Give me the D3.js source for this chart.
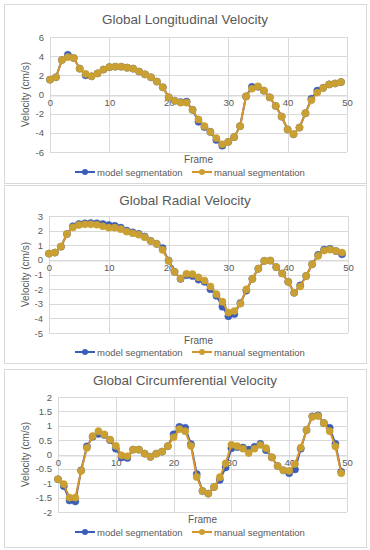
<!DOCTYPE html>
<html><head><meta charset="utf-8">
<script src="https://cdn.jsdelivr.net/npm/d3@7"></script>
<style>body{margin:0;background:#fff;}svg{display:block;font-family:"Liberation Sans",Arial,sans-serif;}</style>
</head><body><svg id="c" width="370" height="550"></svg>
<script>
const frames = d3.range(0, 50);
const seriesNames = ["model segmentation", "manual segmentation"];
const titles = ["Global Longitudinal Velocity", "Global Radial Velocity", "Global Circumferential Velocity"];

const longModel = [1.55,1.8,3.6,4.15,3.8,2.7,2.0,1.9,2.2,2.6,2.85,2.9,2.9,2.8,2.7,2.4,2.1,1.8,1.35,0.75,-0.3,-0.65,-0.8,-0.75,-1.6,-2.85,-3.4,-3.9,-4.75,-5.35,-4.95,-4.45,-3.3,-0.2,0.8,0.8,0.4,-0.3,-1.2,-2.3,-3.65,-4.15,-3.45,-1.95,-0.45,0.4,0.7,1.05,1.15,1.3];
const longManual = [1.55,1.8,3.6,3.9,3.8,2.7,2.15,1.9,2.2,2.6,2.85,2.9,2.9,2.8,2.7,2.4,2.1,1.8,1.35,0.75,-0.3,-0.65,-0.85,-0.85,-1.6,-2.6,-3.3,-3.9,-4.55,-5.2,-4.95,-4.45,-3.3,-0.2,0.6,0.85,0.4,-0.3,-1.2,-2.3,-3.65,-4.15,-3.45,-1.95,-0.6,0.2,0.7,1.05,1.15,1.3];

const radModel = [0.43,0.5,0.9,1.77,2.3,2.45,2.5,2.52,2.5,2.45,2.38,2.33,2.2,2.0,1.88,1.78,1.6,1.3,1.1,0.8,-0.05,-0.82,-1.3,-1.05,-1.1,-1.35,-1.5,-2.0,-2.45,-3.2,-3.85,-3.7,-2.95,-2.1,-1.3,-0.6,-0.07,-0.05,-0.5,-0.93,-1.5,-2.25,-1.75,-1.1,-0.3,0.35,0.7,0.75,0.6,0.38];
const radManual = [0.43,0.5,0.9,1.77,2.22,2.38,2.43,2.43,2.4,2.3,2.2,2.2,2.1,1.93,1.82,1.72,1.55,1.3,1.1,0.68,-0.07,-0.82,-1.27,-0.95,-0.98,-1.2,-1.41,-1.82,-2.34,-2.86,-3.6,-3.5,-3.0,-2.02,-1.3,-0.6,-0.07,-0.05,-0.5,-0.93,-1.5,-2.25,-1.82,-1.1,-0.3,0.27,0.64,0.7,0.6,0.5];

const circModel = [-0.86,-1.1,-1.6,-1.63,-0.55,0.28,0.62,0.72,0.68,0.5,0.2,-0.1,-0.12,0.17,0.17,0.03,-0.08,0.03,0.1,0.29,0.7,0.96,0.93,0.36,-0.68,-1.27,-1.36,-1.13,-0.88,-0.45,0.22,0.26,0.24,0.17,0.27,0.37,0.15,-0.1,-0.4,-0.55,-0.65,-0.52,0.2,0.85,1.33,1.36,1.09,0.93,0.37,-0.6];
const circManual = [-0.86,-1.03,-1.5,-1.5,-0.57,0.23,0.64,0.81,0.7,0.52,0.3,-0.03,-0.06,0.17,0.17,0.03,-0.08,0.03,0.1,0.29,0.6,0.88,0.81,0.3,-0.78,-1.27,-1.36,-1.13,-0.79,-0.31,0.34,0.29,0.2,0.05,0.2,0.33,0.22,-0.1,-0.4,-0.55,-0.57,-0.33,0.24,0.85,1.31,1.34,1.09,0.81,0.28,-0.65];

const longTicks = [-6,-4,-2,0,2,4,6];
const radTicks = [-5,-4,-3,-2,-1,0,1,2,3];
const circTicks = [-2,-1.5,-1,-0.5,0,0.5,1,1.5,2];
const xTicks = [0,10,20,30,40,50];

const colors = ["#3A5DB8", "#D9952A"];
const markerFill = ["#3A5DB8", "#C9A031"];

const panels = [
  {title: titles[0], model: longModel, manual: longManual, ticks: longTicks,
   box: [4,4,366,183], plot: [50,37,347,152], titleY: 24, frameY: 163, legY: 172},
  {title: titles[1], model: radModel, manual: radManual, ticks: radTicks,
   box: [4,185,366,363], plot: [49,216,348,333], titleY: 205, frameY: 344, legY: 352},
  {title: titles[2], model: circModel, manual: circManual, ticks: circTicks,
   box: [4,369,366,547], plot: [58,397,347,512], titleY: 385, frameY: 523, legY: 532}
];

const svg = d3.select("#c");
const gray = "#595959";

panels.forEach(p => {
  const g = svg.append("g");
  g.append("rect").attr("x", p.box[0]+0.5).attr("y", p.box[1]+0.5)
    .attr("width", p.box[2]-p.box[0]).attr("height", p.box[3]-p.box[1])
    .attr("fill", "#fff").attr("stroke", "#d9d9d9");
  const x = d3.scaleLinear().domain([0,50]).range([p.plot[0], p.plot[2]]);
  const y = d3.scaleLinear().domain([d3.min(p.ticks), d3.max(p.ticks)]).range([p.plot[3], p.plot[1]]);

  g.append("g").selectAll("line").data(p.ticks).join("line")
    .attr("x1", p.plot[0]).attr("x2", p.plot[2])
    .attr("y1", d => Math.round(y(d))+0.5).attr("y2", d => Math.round(y(d))+0.5)
    .attr("stroke", "#d9d9d9").attr("stroke-width", 1);
  g.append("g").selectAll("line").data(xTicks).join("line")
    .attr("x1", d => Math.round(x(d))+0.5).attr("x2", d => Math.round(x(d))+0.5)
    .attr("y1", p.plot[1]).attr("y2", p.plot[3])
    .attr("stroke", "#d9d9d9").attr("stroke-width", 1);

  const yAxis = d3.axisLeft(y).tickValues(p.ticks).tickSize(0).tickPadding(6)
    .tickFormat(d => String(d));
  const ya = g.append("g").attr("transform", `translate(${p.plot[0]},0)`).call(yAxis);
  ya.select(".domain").remove();
  ya.selectAll("text").attr("fill", gray).style("font-size", "9.5px");

  const xAxis = d3.axisBottom(x).tickValues(xTicks).tickSize(0).tickPadding(4).tickFormat(d => String(d));
  const xa = g.append("g").attr("transform", `translate(0,${Math.round(y(0))+0.5})`).call(xAxis);
  xa.select(".domain").attr("stroke", "#d9d9d9");
  xa.selectAll("text").attr("fill", gray).style("font-size", "9.5px");

  g.append("text").attr("x", 185).attr("y", p.titleY).attr("text-anchor", "middle")
    .attr("fill", gray).style("font-size", "13.5px").text(p.title);
  g.append("text").attr("x", (p.plot[0]+p.plot[2])/2).attr("y", p.frameY).attr("text-anchor", "middle")
    .attr("fill", gray).style("font-size", "10px").text("Frame");
  g.append("text").attr("transform", `translate(${p.box[0]+25},${(p.plot[1]+p.plot[3])/2}) rotate(-90)`)
    .attr("text-anchor", "middle").attr("fill", gray).style("font-size", "10px").text("Velocity (cm/s)");

  const line = d3.line().x((d,i) => x(frames[i])).y(d => y(d));
  [p.model, p.manual].forEach((vals, si) => {
    g.append("path").datum(vals).attr("d", line).attr("fill", "none")
      .attr("stroke", colors[si]).attr("stroke-width", 2).attr("stroke-linejoin", "round");
    g.append("g").selectAll("circle").data(vals).join("circle")
      .attr("cx", (d,i) => x(frames[i])).attr("cy", d => y(d)).attr("r", 3.6)
      .attr("fill", markerFill[si]).attr("stroke", markerFill[si]).attr("stroke-width", 0.5);
  });

  const legX = [75, 192];
  seriesNames.forEach((name, si) => {
    const lg = g.append("g").attr("transform", `translate(${legX[si]},${p.legY})`);
    lg.append("line").attr("x1", 0).attr("x2", 20).attr("y1", 0).attr("y2", 0)
      .attr("stroke", colors[si]).attr("stroke-width", 2);
    lg.append("circle").attr("cx", 10).attr("cy", 0).attr("r", 3).attr("fill", markerFill[si]);
    lg.append("text").attr("x", 22).attr("y", 3.5).attr("fill", gray).style("font-size", "9.5px").text(name);
  });
});
</script></body></html>
